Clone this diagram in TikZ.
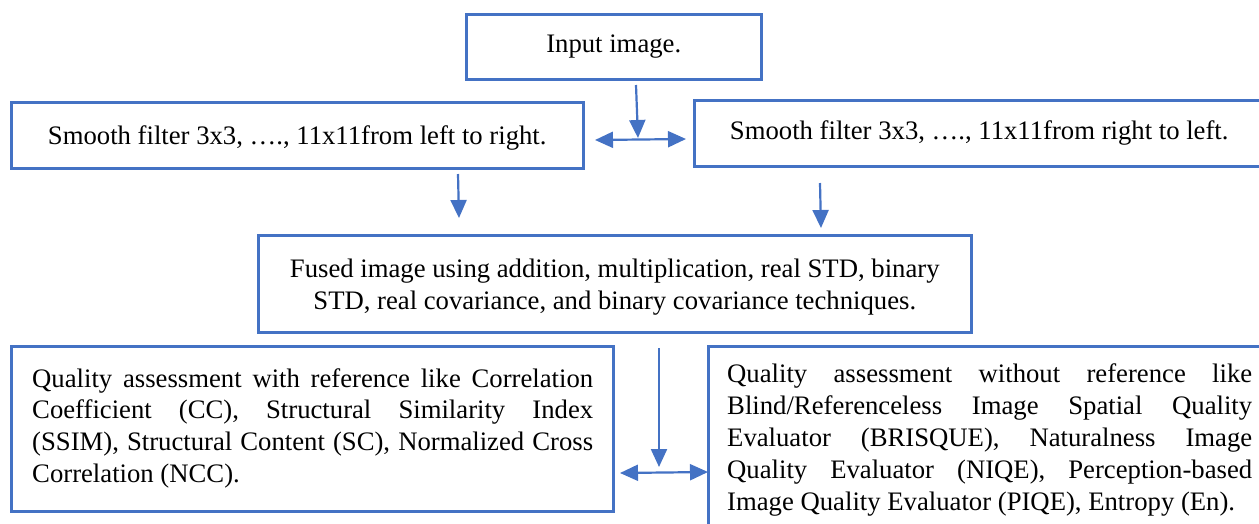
\documentclass[tikz,border=0pt]{standalone}
\usepackage{fontspec}
\setmainfont{Liberation Serif}
\usetikzlibrary{arrows.meta}
\definecolor{bblue}{RGB}{68,114,196}
\tikzset{
  box/.style={draw=bblue, line width=2.5pt, inner sep=0pt},
  txt/.style={inner sep=0pt, font=\fontsize{26.7}{31.9}\selectfont},
  arr/.style={draw=bblue, line width=2.2pt, -{Triangle[length=18pt,width=16pt]}},
  darr/.style={draw=bblue, line width=2.2pt, {Triangle[length=18pt,width=16pt]}-{Triangle[length=18pt,width=16pt]}}
}
\begin{document}
\begin{tikzpicture}[x=1pt,y=-1pt]
\useasboundingbox (0,0) rectangle (1259,523);
\clip (0,0) rectangle (1259,523);
\node[box, minimum width=295, minimum height=65, anchor=north west] (in) at (465,13) {};
\node[txt] (int) at (in.center) {Input image.};
\node[box, minimum width=572, minimum height=66, anchor=north west] (L) at (10,101) {};
\node[txt, yshift=-3pt] (Lt) at (L.center) {Smooth filter 3x3, \dots., 11x11from left to right.};
\node[box, minimum width=580, minimum height=66, anchor=north west] (R) at (693,99) {};
\node[txt, xshift=-5pt] (Rt) at (R.center) {Smooth filter 3x3, \dots., 11x11from right to left.};
\node[box, minimum width=713, minimum height=97, anchor=north west] (F) at (257,234) {};
\node[txt, align=center, yshift=-3pt] (Ft) at (F.center) {Fused image using addition, multiplication, real STD, binary\\STD, real covariance, and binary covariance techniques.};
\node[box, minimum width=602, minimum height=165, anchor=north west] (QL) at (10,345) {};
\node[txt, anchor=north west, text width=561pt, align=justify] (QLt) at (32,368) {\tolerance=10000 Quality assessment with reference like Correlation\linebreak Coefficient (CC), Structural Similarity Index\linebreak (SSIM), Structural Content (SC), Normalized Cross\linebreak Correlation (NCC).};
\node[box, minimum width=580, minimum height=190, anchor=north west] (QR) at (707,345) {};
\node[txt, anchor=north west, text width=525pt, align=justify, font=\fontsize{26.7}{32.2}\selectfont] (QRt) at (727,363) {\tolerance=10000 Quality assessment without reference like\linebreak Blind/Referenceless Image Spatial Quality\linebreak Evaluator (BRISQUE), Naturalness Image\linebreak Quality Evaluator (NIQE), Perception-based\linebreak Image Quality Evaluator (PIQE), Entropy (En).};
\coordinate (a1s) at (636,85);
\coordinate (a1e) at (638,138);
\draw[arr] (a1s) -- (a1e);
\coordinate (d1l) at (595,140);
\coordinate (d1r) at (686,139);
\draw[darr] (d1l) -- (d1r);
\coordinate (a2s) at (458,174);
\coordinate (a2e) at (459,218);
\draw[arr] (a2s) -- (a2e);
\coordinate (a3s) at (820,183);
\coordinate (a3e) at (821,228);
\draw[arr] (a3s) -- (a3e);
\coordinate (a4s) at (659,348);
\coordinate (a4e) at (659,467);
\draw[arr] (a4s) -- (a4e);
\coordinate (d2l) at (620,473);
\coordinate (d2r) at (708,472);
\draw[darr] (d2l) -- (d2r);
\end{tikzpicture}
\end{document}
